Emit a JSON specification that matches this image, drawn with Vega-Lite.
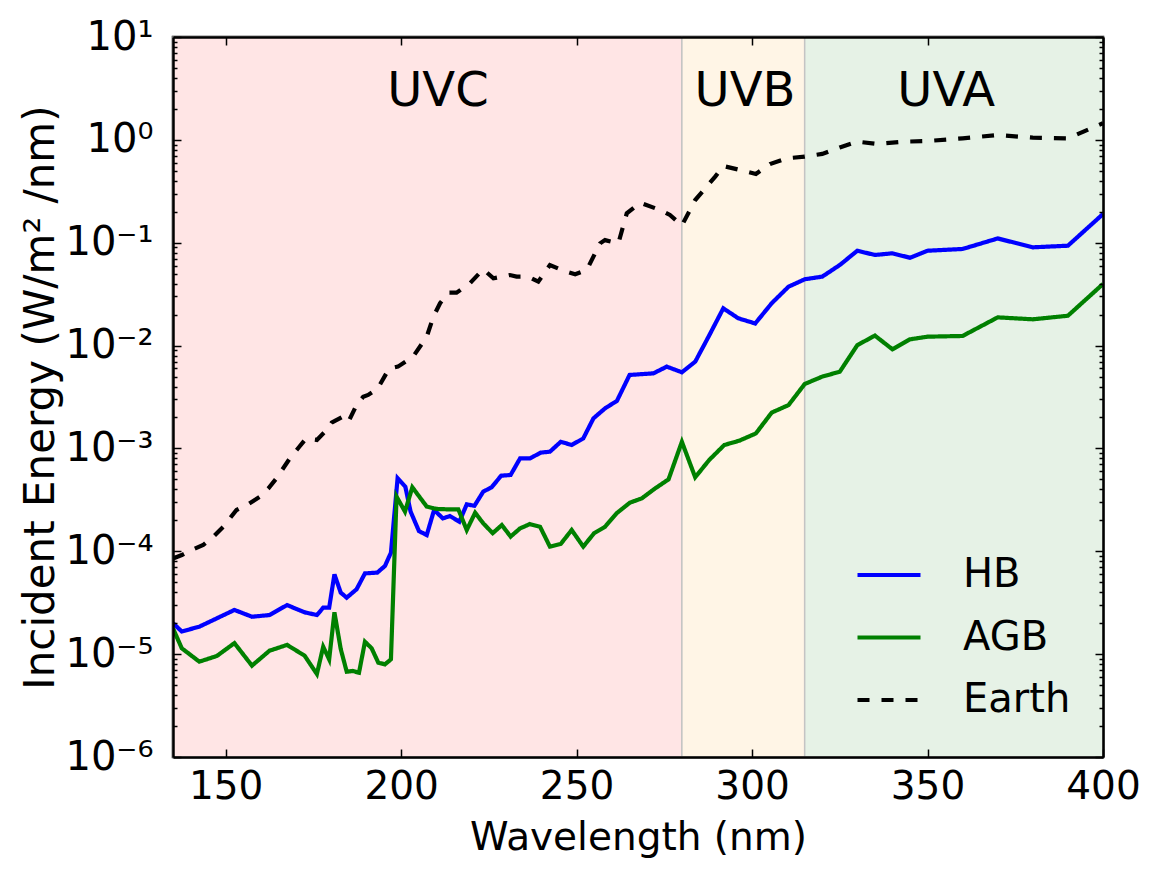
{
  "$schema": "https://vega.github.io/schema/vega-lite/v6.json",
  "width": 930,
  "height": 720,
  "autosize": "none",
  "padding": {"left": 173, "top": 37, "right": 53, "bottom": 116},
  "background": "white",
  "config": {
    "font": "DejaVu Sans",
    "view": {"stroke": "black", "strokeWidth": 2.5},
    "axis": {"grid": false, "domain": true, "ticks": true, "labelFlush": false, "labelOverlap": false, "domainColor": "black", "domainWidth": 2.5, "tickColor": "black", "tickWidth": 1.5, "labelColor": "black", "titleColor": "black", "labelFontSize": 39, "titleFontSize": 39, "titleFontWeight": "normal", "labelFont": "DejaVu Sans", "titleFont": "DejaVu Sans"}
  },
  "layer": [
    {
      "data": {"values": [
        {"band": "UVC", "start": 135, "end": 280},
        {"band": "UVB", "start": 280, "end": 315},
        {"band": "UVA", "start": 315, "end": 400}
      ]},
      "mark": {"type": "rect", "stroke": "#c4c4c4", "strokeWidth": 1.5},
      "encoding": {
        "x": {"field": "start", "type": "quantitative", "scale": {"domain": [135, 400], "nice": false, "zero": false},
              "axis": {"orient": "top", "values": [150, 200, 250, 300, 350, 400], "labels": false, "title": null, "tickSize": -8, "zindex": 2}},
        "x2": {"field": "end"},
        "fill": {"field": "band", "type": "nominal", "scale": {"domain": ["UVC", "UVB", "UVA"], "range": ["#ffe5e5", "#fff5e6", "#e6f2e6"]}, "legend": null}
      }
    },
    {
      "data": {"values": [
        {"series": "HB", "wl": 135, "E": 2.0e-5},
        {"series": "HB", "wl": 137.5, "E": 1.66e-5},
        {"series": "HB", "wl": 142.5, "E": 1.85e-5},
        {"series": "HB", "wl": 147.5, "E": 2.23e-5},
        {"series": "HB", "wl": 152.5, "E": 2.69e-5},
        {"series": "HB", "wl": 157.5, "E": 2.31e-5},
        {"series": "HB", "wl": 162.5, "E": 2.40e-5},
        {"series": "HB", "wl": 167.5, "E": 3.0e-5},
        {"series": "HB", "wl": 172.5, "E": 2.55e-5},
        {"series": "HB", "wl": 176, "E": 2.40e-5},
        {"series": "HB", "wl": 177.8, "E": 2.83e-5},
        {"series": "HB", "wl": 179.5, "E": 2.83e-5},
        {"series": "HB", "wl": 181, "E": 5.97e-5},
        {"series": "HB", "wl": 182.8, "E": 3.96e-5},
        {"series": "HB", "wl": 184.5, "E": 3.54e-5},
        {"series": "HB", "wl": 187.3, "E": 4.27e-5},
        {"series": "HB", "wl": 189.7, "E": 6.1e-5},
        {"series": "HB", "wl": 193.2, "E": 6.2e-5},
        {"series": "HB", "wl": 195.4, "E": 7.2e-5},
        {"series": "HB", "wl": 197.1, "E": 9.7e-5},
        {"series": "HB", "wl": 199, "E": 5.13e-4},
        {"series": "HB", "wl": 201.2, "E": 4.25e-4},
        {"series": "HB", "wl": 202.7, "E": 2.43e-4},
        {"series": "HB", "wl": 205.1, "E": 1.57e-4},
        {"series": "HB", "wl": 207.3, "E": 1.44e-4},
        {"series": "HB", "wl": 209.4, "E": 2.52e-4},
        {"series": "HB", "wl": 211.9, "E": 2.09e-4},
        {"series": "HB", "wl": 213.9, "E": 2.2e-4},
        {"series": "HB", "wl": 216.6, "E": 1.94e-4},
        {"series": "HB", "wl": 218.7, "E": 2.86e-4},
        {"series": "HB", "wl": 220.9, "E": 2.77e-4},
        {"series": "HB", "wl": 223.4, "E": 3.8e-4},
        {"series": "HB", "wl": 225.8, "E": 4.19e-4},
        {"series": "HB", "wl": 228.5, "E": 5.43e-4},
        {"series": "HB", "wl": 231.2, "E": 5.52e-4},
        {"series": "HB", "wl": 233.9, "E": 8.0e-4},
        {"series": "HB", "wl": 236.7, "E": 8.0e-4},
        {"series": "HB", "wl": 239.8, "E": 9.1e-4},
        {"series": "HB", "wl": 242.4, "E": 9.3e-4},
        {"series": "HB", "wl": 245.5, "E": 1.16e-3},
        {"series": "HB", "wl": 248.6, "E": 1.08e-3},
        {"series": "HB", "wl": 251.9, "E": 1.25e-3},
        {"series": "HB", "wl": 254.8, "E": 1.96e-3},
        {"series": "HB", "wl": 258.1, "E": 2.45e-3},
        {"series": "HB", "wl": 261.5, "E": 2.9e-3},
        {"series": "HB", "wl": 265.1, "E": 5.18e-3},
        {"series": "HB", "wl": 271.9, "E": 5.37e-3},
        {"series": "HB", "wl": 275.7, "E": 6.24e-3},
        {"series": "HB", "wl": 280, "E": 5.5e-3},
        {"series": "HB", "wl": 283.8, "E": 6.97e-3},
        {"series": "HB", "wl": 287.6, "E": 1.22e-2},
        {"series": "HB", "wl": 291.8, "E": 2.30e-2},
        {"series": "HB", "wl": 296.1, "E": 1.84e-2},
        {"series": "HB", "wl": 300.9, "E": 1.64e-2},
        {"series": "HB", "wl": 305.6, "E": 2.58e-2},
        {"series": "HB", "wl": 310.4, "E": 3.74e-2},
        {"series": "HB", "wl": 315, "E": 4.41e-2},
        {"series": "HB", "wl": 320, "E": 4.68e-2},
        {"series": "HB", "wl": 325, "E": 6.07e-2},
        {"series": "HB", "wl": 330, "E": 8.36e-2},
        {"series": "HB", "wl": 335, "E": 7.6e-2},
        {"series": "HB", "wl": 340, "E": 7.89e-2},
        {"series": "HB", "wl": 345, "E": 7.14e-2},
        {"series": "HB", "wl": 350, "E": 8.36e-2},
        {"series": "HB", "wl": 360, "E": 8.69e-2},
        {"series": "HB", "wl": 370, "E": 0.110},
        {"series": "HB", "wl": 380, "E": 9.02e-2},
        {"series": "HB", "wl": 390, "E": 9.35e-2},
        {"series": "HB", "wl": 400, "E": 0.19},
        {"series": "AGB", "wl": 135, "E": 1.78e-5},
        {"series": "AGB", "wl": 137.5, "E": 1.14e-5},
        {"series": "AGB", "wl": 142.5, "E": 8.45e-6},
        {"series": "AGB", "wl": 147.5, "E": 9.6e-6},
        {"series": "AGB", "wl": 152.5, "E": 1.28e-5},
        {"series": "AGB", "wl": 157.5, "E": 7.73e-6},
        {"series": "AGB", "wl": 162.5, "E": 1.08e-5},
        {"series": "AGB", "wl": 167.5, "E": 1.23e-5},
        {"series": "AGB", "wl": 172.5, "E": 9.66e-6},
        {"series": "AGB", "wl": 176, "E": 6.41e-6},
        {"series": "AGB", "wl": 177.8, "E": 1.18e-5},
        {"series": "AGB", "wl": 179.5, "E": 8.9e-6},
        {"series": "AGB", "wl": 181, "E": 2.55e-5},
        {"series": "AGB", "wl": 182.8, "E": 1.12e-5},
        {"series": "AGB", "wl": 184.5, "E": 6.75e-6},
        {"series": "AGB", "wl": 186.2, "E": 6.86e-6},
        {"series": "AGB", "wl": 188, "E": 6.6e-6},
        {"series": "AGB", "wl": 189.7, "E": 1.32e-5},
        {"series": "AGB", "wl": 191.6, "E": 1.14e-5},
        {"series": "AGB", "wl": 193.5, "E": 8.26e-6},
        {"series": "AGB", "wl": 195.4, "E": 7.96e-6},
        {"series": "AGB", "wl": 197.1, "E": 8.9e-6},
        {"series": "AGB", "wl": 198.7, "E": 3.4e-4},
        {"series": "AGB", "wl": 201.1, "E": 2.43e-4},
        {"series": "AGB", "wl": 203.2, "E": 4.19e-4},
        {"series": "AGB", "wl": 207.3, "E": 2.72e-4},
        {"series": "AGB", "wl": 210.1, "E": 2.58e-4},
        {"series": "AGB", "wl": 213, "E": 2.56e-4},
        {"series": "AGB", "wl": 216.3, "E": 2.56e-4},
        {"series": "AGB", "wl": 218.7, "E": 1.61e-4},
        {"series": "AGB", "wl": 221.1, "E": 2.37e-4},
        {"series": "AGB", "wl": 223.4, "E": 1.87e-4},
        {"series": "AGB", "wl": 226.1, "E": 1.50e-4},
        {"series": "AGB", "wl": 228.7, "E": 1.80e-4},
        {"series": "AGB", "wl": 231.2, "E": 1.39e-4},
        {"series": "AGB", "wl": 233.9, "E": 1.67e-4},
        {"series": "AGB", "wl": 236.7, "E": 1.84e-4},
        {"series": "AGB", "wl": 239.6, "E": 1.73e-4},
        {"series": "AGB", "wl": 242.4, "E": 1.11e-4},
        {"series": "AGB", "wl": 245.5, "E": 1.18e-4},
        {"series": "AGB", "wl": 248.6, "E": 1.61e-4},
        {"series": "AGB", "wl": 251.9, "E": 1.11e-4},
        {"series": "AGB", "wl": 255, "E": 1.50e-4},
        {"series": "AGB", "wl": 258.1, "E": 1.73e-4},
        {"series": "AGB", "wl": 261.4, "E": 2.34e-4},
        {"series": "AGB", "wl": 265.2, "E": 2.97e-4},
        {"series": "AGB", "wl": 268.6, "E": 3.27e-4},
        {"series": "AGB", "wl": 272.4, "E": 4.09e-4},
        {"series": "AGB", "wl": 276.2, "E": 5.0e-4},
        {"series": "AGB", "wl": 280, "E": 1.16e-3},
        {"series": "AGB", "wl": 283.8, "E": 5.24e-4},
        {"series": "AGB", "wl": 287.8, "E": 7.73e-4},
        {"series": "AGB", "wl": 292.1, "E": 1.08e-3},
        {"series": "AGB", "wl": 296.4, "E": 1.19e-3},
        {"series": "AGB", "wl": 301.1, "E": 1.40e-3},
        {"series": "AGB", "wl": 305.6, "E": 2.23e-3},
        {"series": "AGB", "wl": 310.4, "E": 2.64e-3},
        {"series": "AGB", "wl": 315, "E": 4.23e-3},
        {"series": "AGB", "wl": 320, "E": 4.99e-3},
        {"series": "AGB", "wl": 325, "E": 5.57e-3},
        {"series": "AGB", "wl": 330, "E": 1.01e-2},
        {"series": "AGB", "wl": 335, "E": 1.25e-2},
        {"series": "AGB", "wl": 340, "E": 9.2e-3},
        {"series": "AGB", "wl": 345, "E": 1.15e-2},
        {"series": "AGB", "wl": 350, "E": 1.22e-2},
        {"series": "AGB", "wl": 360, "E": 1.24e-2},
        {"series": "AGB", "wl": 370, "E": 1.88e-2},
        {"series": "AGB", "wl": 380, "E": 1.80e-2},
        {"series": "AGB", "wl": 390, "E": 1.95e-2},
        {"series": "AGB", "wl": 400, "E": 3.97e-2},
        {"series": "Earth", "wl": 135, "E": 8.5e-5},
        {"series": "Earth", "wl": 137.5, "E": 9.2e-5},
        {"series": "Earth", "wl": 140.3, "E": 1.03e-4},
        {"series": "Earth", "wl": 143.6, "E": 1.15e-4},
        {"series": "Earth", "wl": 146.5, "E": 1.39e-4},
        {"series": "Earth", "wl": 149.3, "E": 1.73e-4},
        {"series": "Earth", "wl": 153.1, "E": 2.52e-4},
        {"series": "Earth", "wl": 156.5, "E": 2.88e-4},
        {"series": "Earth", "wl": 159.8, "E": 3.40e-4},
        {"series": "Earth", "wl": 162.2, "E": 4.09e-4},
        {"series": "Earth", "wl": 164.5, "E": 5.13e-4},
        {"series": "Earth", "wl": 168.3, "E": 8.0e-4},
        {"series": "Earth", "wl": 170.3, "E": 9.7e-4},
        {"series": "Earth", "wl": 172.9, "E": 1.25e-3},
        {"series": "Earth", "wl": 176, "E": 1.21e-3},
        {"series": "Earth", "wl": 178.8, "E": 1.51e-3},
        {"series": "Earth", "wl": 180.2, "E": 1.78e-3},
        {"series": "Earth", "wl": 183.5, "E": 2.04e-3},
        {"series": "Earth", "wl": 185, "E": 1.82e-3},
        {"series": "Earth", "wl": 187.3, "E": 2.64e-3},
        {"series": "Earth", "wl": 189.2, "E": 3.18e-3},
        {"series": "Earth", "wl": 190.6, "E": 3.31e-3},
        {"series": "Earth", "wl": 193.3, "E": 3.8e-3},
        {"series": "Earth", "wl": 195.8, "E": 5.37e-3},
        {"series": "Earth", "wl": 196.7, "E": 6.0e-3},
        {"series": "Earth", "wl": 199.1, "E": 6.24e-3},
        {"series": "Earth", "wl": 203.4, "E": 7.8e-3},
        {"series": "Earth", "wl": 207.3, "E": 1.22e-2},
        {"series": "Earth", "wl": 209.2, "E": 1.91e-2},
        {"series": "Earth", "wl": 211.1, "E": 2.58e-2},
        {"series": "Earth", "wl": 213.5, "E": 3.27e-2},
        {"series": "Earth", "wl": 215.8, "E": 3.27e-2},
        {"series": "Earth", "wl": 219.6, "E": 4.03e-2},
        {"series": "Earth", "wl": 223.4, "E": 5.52e-2},
        {"series": "Earth", "wl": 226.3, "E": 4.51e-2},
        {"series": "Earth", "wl": 231, "E": 4.85e-2},
        {"series": "Earth", "wl": 232.9, "E": 4.68e-2},
        {"series": "Earth", "wl": 236.2, "E": 4.68e-2},
        {"series": "Earth", "wl": 239.1, "E": 4.18e-2},
        {"series": "Earth", "wl": 242.4, "E": 6.07e-2},
        {"series": "Earth", "wl": 246.2, "E": 5.35e-2},
        {"series": "Earth", "wl": 249.6, "E": 4.93e-2},
        {"series": "Earth", "wl": 252.9, "E": 5.43e-2},
        {"series": "Earth", "wl": 256.7, "E": 9.86e-2},
        {"series": "Earth", "wl": 258.1, "E": 0.106},
        {"series": "Earth", "wl": 261.9, "E": 9.86e-2},
        {"series": "Earth", "wl": 264.3, "E": 0.193},
        {"series": "Earth", "wl": 268.1, "E": 0.245},
        {"series": "Earth", "wl": 273.8, "E": 0.208},
        {"series": "Earth", "wl": 276.6, "E": 0.186},
        {"series": "Earth", "wl": 280, "E": 0.147},
        {"series": "Earth", "wl": 283.8, "E": 0.26},
        {"series": "Earth", "wl": 289.5, "E": 0.439},
        {"series": "Earth", "wl": 291.8, "E": 0.557},
        {"series": "Earth", "wl": 296.6, "E": 0.509},
        {"series": "Earth", "wl": 301.1, "E": 0.466},
        {"series": "Earth", "wl": 305.1, "E": 0.582},
        {"series": "Earth", "wl": 309.9, "E": 0.662},
        {"series": "Earth", "wl": 315, "E": 0.686},
        {"series": "Earth", "wl": 320, "E": 0.73},
        {"series": "Earth", "wl": 325, "E": 0.845},
        {"series": "Earth", "wl": 330, "E": 0.96},
        {"series": "Earth", "wl": 335.5, "E": 0.912},
        {"series": "Earth", "wl": 343, "E": 0.96},
        {"series": "Earth", "wl": 350, "E": 0.975},
        {"series": "Earth", "wl": 360, "E": 1.035},
        {"series": "Earth", "wl": 370, "E": 1.114},
        {"series": "Earth", "wl": 380, "E": 1.05},
        {"series": "Earth", "wl": 390, "E": 1.035},
        {"series": "Earth", "wl": 400, "E": 1.45}
      ]},
      "mark": {"type": "line", "clip": true},
      "encoding": {
        "x": {"field": "wl", "type": "quantitative", "scale": {"domain": [135, 400], "nice": false, "zero": false},
              "axis": {"values": [150, 200, 250, 300, 350, 400], "title": "Wavelength (nm)", "tickSize": -8, "labelPadding": 18, "titlePadding": 12, "zindex": 2}},
        "y": {"field": "E", "type": "quantitative", "scale": {"type": "log", "domain": [1e-6, 10], "nice": false},
              "axis": {
                "values": [1e-6, 2e-6, 3e-6, 4e-6, 5e-6, 6e-6, 7e-6, 8e-6, 9e-6, 1e-5, 2e-5, 3e-5, 4e-5, 5e-5, 6e-5, 7e-5, 8e-5, 9e-5, 1e-4, 2e-4, 3e-4, 4e-4, 5e-4, 6e-4, 7e-4, 8e-4, 9e-4, 1e-3, 2e-3, 3e-3, 4e-3, 5e-3, 6e-3, 7e-3, 8e-3, 9e-3, 0.01, 0.02, 0.03, 0.04, 0.05, 0.06, 0.07, 0.08, 0.09, 0.1, 0.2, 0.3, 0.4, 0.5, 0.6, 0.7, 0.8, 0.9, 1, 2, 3, 4, 5, 6, 7, 8, 9, 10],
                "labelExpr": "abs(log(datum.value)/LN10 - round(log(datum.value)/LN10)) > 0.001 ? '' : ['10⁻⁶','10⁻⁵','10⁻⁴','10⁻³','10⁻²','10⁻¹','10⁰','10¹'][round(log(datum.value)/LN10)+6]",
                "tickSize": {"condition": {"test": "abs(log(datum.value)/LN10 - round(log(datum.value)/LN10)) < 0.001", "value": -8}, "value": -4},
                "labelPadding": 28,
                "labelFontSize": 40,
                "labelBaseline": "middle",
                "title": "Incident Energy (W/m² /nm)",
                "titleFontSize": 42,
                "titlePadding": 2,
                "zindex": 2
              }},
        "color": {"field": "series", "type": "nominal", "scale": {"domain": ["HB", "AGB", "Earth"], "range": ["#0000ff", "#008000", "#000000"]},
                  "legend": {"orient": "none", "legendX": 682, "legendY": 504, "title": null, "symbolType": "stroke", "symbolSize": 3969, "labelFontSize": 40, "labelOffset": 40, "rowPadding": 8.5, "padding": 0, "labelColor": "black", "labelFont": "DejaVu Sans"}},
        "strokeDash": {"field": "series", "type": "nominal", "scale": {"domain": ["HB", "AGB", "Earth"], "range": [[1, 0], [1, 0], [12, 12]]}},
        "strokeWidth": {"field": "series", "type": "nominal", "scale": {"domain": ["HB", "AGB", "Earth"], "range": [4.2, 4.2, 2]}}
      }
    },
    {
      "data": {"values": [
        {"label": "UVC", "wl": 210.5, "E": 2.95},
        {"label": "UVB", "wl": 298, "E": 2.95},
        {"label": "UVA", "wl": 355.3, "E": 2.95}
      ]},
      "mark": {"type": "text", "fontSize": 48, "baseline": "middle", "align": "center", "color": "black"},
      "encoding": {
        "x": {"field": "wl", "type": "quantitative", "scale": {"domain": [135, 400], "nice": false, "zero": false}, "axis": null},
        "y": {"field": "E", "type": "quantitative", "scale": {"type": "log", "domain": [1e-6, 10], "nice": false},
              "axis": {"orient": "right", "labels": false, "title": null, "zindex": 2,
                "values": [1e-6, 2e-6, 3e-6, 4e-6, 5e-6, 6e-6, 7e-6, 8e-6, 9e-6, 1e-5, 2e-5, 3e-5, 4e-5, 5e-5, 6e-5, 7e-5, 8e-5, 9e-5, 1e-4, 2e-4, 3e-4, 4e-4, 5e-4, 6e-4, 7e-4, 8e-4, 9e-4, 1e-3, 2e-3, 3e-3, 4e-3, 5e-3, 6e-3, 7e-3, 8e-3, 9e-3, 0.01, 0.02, 0.03, 0.04, 0.05, 0.06, 0.07, 0.08, 0.09, 0.1, 0.2, 0.3, 0.4, 0.5, 0.6, 0.7, 0.8, 0.9, 1, 2, 3, 4, 5, 6, 7, 8, 9, 10],
                "tickSize": {"condition": {"test": "abs(log(datum.value)/LN10 - round(log(datum.value)/LN10)) < 0.001", "value": -8}, "value": -4}}},
        "text": {"field": "label"}
      }
    }
  ],
  "resolve": {"axis": {"x": "independent", "y": "independent"}}
}
